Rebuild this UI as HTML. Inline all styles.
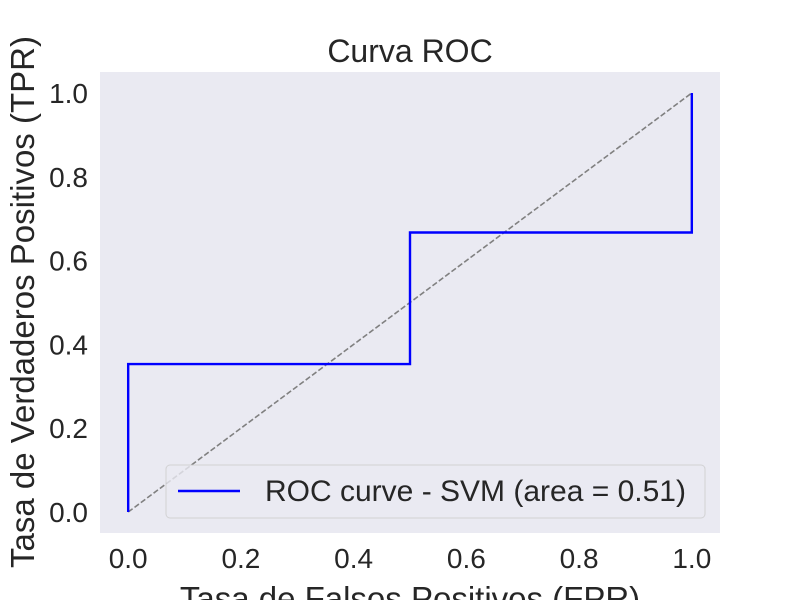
<!DOCTYPE html>
<html><head><meta charset="utf-8"><style>
body{margin:0;background:#fff;}
svg text{font-family:"Liberation Sans","DejaVu Sans",sans-serif;fill:#262626;}
</style></head><body>
<svg width="800" height="600" xmlns="http://www.w3.org/2000/svg">
<rect x="0" y="0" width="800" height="600" fill="#fff"/>
<rect x="100" y="72" width="620" height="461" fill="#eaeaf2"/>
<g id="ticks"></g>
<line id="diag" stroke="#808080" stroke-width="1.6" stroke-dasharray="5.5,2.4"/>
<polyline id="roc" fill="none" stroke="#0000ff" stroke-width="2.4"/>
<text x="410" y="62" font-size="32" text-anchor="middle">Curva ROC</text>
<text x="410" y="610" font-size="33" text-anchor="middle">Tasa de Falsos Positivos (FPR)</text>
<text transform="translate(34,302) rotate(-90)" font-size="33" text-anchor="middle">Tasa de Verdaderos Positivos (TPR)</text>
<g>
<rect x="166" y="465" width="539" height="53" rx="4" fill="#eaeaf2" stroke="#cccccc" stroke-width="1" opacity="0.8"/>
<line x1="178" y1="491" x2="240" y2="491" stroke="#0000ff" stroke-width="2.4"/>
<text x="265" y="501" font-size="30">ROC curve - SVM (area = 0.51)</text>
</g>
</svg>
<script>
const fpr=[0,0,0.5,0.5,1,1];
const tpr=[0,0.353,0.353,0.667,0.667,1];
const xTicks=[0,0.2,0.4,0.6,0.8,1.0];
const yTicks=[0,0.2,0.4,0.6,0.8,1.0];
const xs=v=>100+(v+0.05)/1.1*620;
const ys=v=>533-(v+0.05)/1.1*461;
const NS="http://www.w3.org/2000/svg";
const g=document.getElementById('ticks');
xTicks.forEach(t=>{const e=document.createElementNS(NS,'text');
e.setAttribute('x',xs(t));e.setAttribute('y',568);e.setAttribute('font-size','28');e.setAttribute('text-anchor','middle');


e.textContent=t.toFixed(1);g.appendChild(e);});
yTicks.forEach(t=>{const e=document.createElementNS(NS,'text');
e.setAttribute('x',88);e.setAttribute('y',ys(t)+10);e.setAttribute('font-size','28');e.setAttribute('text-anchor','end');


e.textContent=t.toFixed(1);g.appendChild(e);});
const d=document.getElementById('diag');
d.setAttribute('x1',xs(0));d.setAttribute('y1',ys(0));d.setAttribute('x2',xs(1));d.setAttribute('y2',ys(1));
document.getElementById('roc').setAttribute('points',fpr.map((v,i)=>xs(v)+','+ys(tpr[i])).join(' '));
</script>
</body></html>
